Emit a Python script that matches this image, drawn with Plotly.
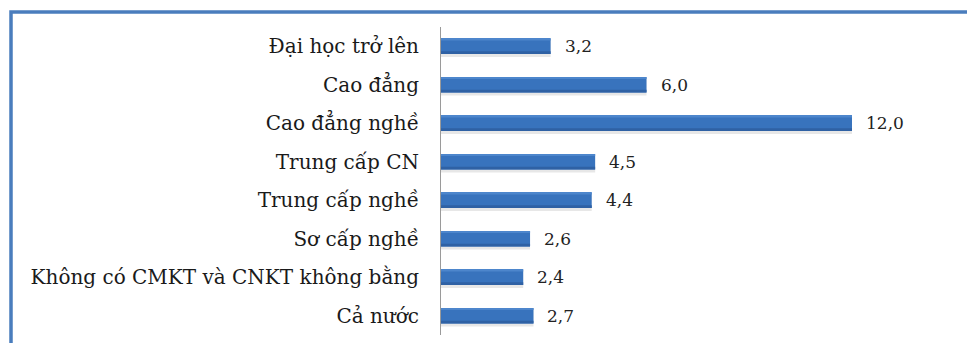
import plotly.graph_objects as go

# Education levels (top to bottom) and their rates
categories = [
    "Đại học trở lên",
    "Cao đẳng",
    "Cao đẳng nghề",
    "Trung cấp CN",
    "Trung cấp nghề",
    "Sơ cấp nghề",
    "Không có CMKT và CNKT không bằng",
    "Cả nước",
]
values = [3.2, 6.0, 12.0, 4.5, 4.4, 2.6, 2.4, 2.7]
value_labels = [f"{v:.1f}".replace(".", ",") for v in values]

W, H = 967, 343
M_L, M_R, M_T, M_B = 441, 26, 27, 8
plot_w = W - M_L - M_R
plot_h = H - M_T - M_B

FONT = "DejaVu Serif"
BAR_W = 0.4

fig = go.Figure()

# Soft drop shadow beneath each bar
fig.add_trace(go.Bar(
    x=values, y=categories, orientation="h",
    width=BAR_W + 0.05, offset=-BAR_W / 2 + 0.03,
    marker=dict(color="rgba(120,120,120,0.18)", line=dict(width=0)),
    hoverinfo="skip",
))
# Main bar body
fig.add_trace(go.Bar(
    x=values, y=categories, orientation="h",
    width=BAR_W, offset=-BAR_W / 2,
    marker=dict(color="#3873bd", line=dict(width=0)),
    hoverinfo="x+y",
))
# Slightly lighter top edge
fig.add_trace(go.Bar(
    x=values, y=categories, orientation="h",
    width=0.05, offset=-BAR_W / 2,
    marker=dict(color="#4d86cc", line=dict(width=0)),
    hoverinfo="skip",
))
# Slightly darker bottom edge
fig.add_trace(go.Bar(
    x=values, y=categories, orientation="h",
    width=0.07, offset=BAR_W / 2 - 0.07,
    marker=dict(color="#2f61a4", line=dict(width=0)),
    hoverinfo="skip",
))

# Value labels to the right of each bar
for cat, v, lab in zip(categories, values, value_labels):
    fig.add_annotation(
        x=v, y=cat, text=lab, showarrow=False,
        xanchor="left", yanchor="middle", xshift=12,
        font=dict(family=FONT, size=17, color="#222222"),
    )

# Blue frame around the chart (top and left edges visible)
def px_to_paper_x(px):
    return (px - M_L) / plot_w

def px_to_paper_y(py):
    return (H - M_B - py) / plot_h

fig.add_shape(
    type="rect", xref="paper", yref="paper",
    x0=px_to_paper_x(11), x1=px_to_paper_x(W + 40),
    y0=px_to_paper_y(H + 40), y1=px_to_paper_y(12),
    line=dict(color="#4a7dbd", width=3.5),
    fillcolor="rgba(0,0,0,0)", layer="below",
)

fig.update_layout(
    width=W, height=H,
    margin=dict(l=M_L, r=M_R, t=M_T, b=M_B, pad=0),
    paper_bgcolor="white", plot_bgcolor="white",
    showlegend=False,
    barmode="overlay",
    font=dict(family=FONT),
    xaxis=dict(
        range=[0, plot_w / 34.25],
        visible=False, showgrid=False, zeroline=False,
    ),
    yaxis=dict(
        autorange="reversed",
        showgrid=False, zeroline=False,
        showline=True, linecolor="#9a9a9a", linewidth=1,
        ticks="", ticklabelstandoff=17,
        tickfont=dict(family=FONT, size=20, color="#1a1a1a"),
    ),
)

fig.write_html("out.html")
